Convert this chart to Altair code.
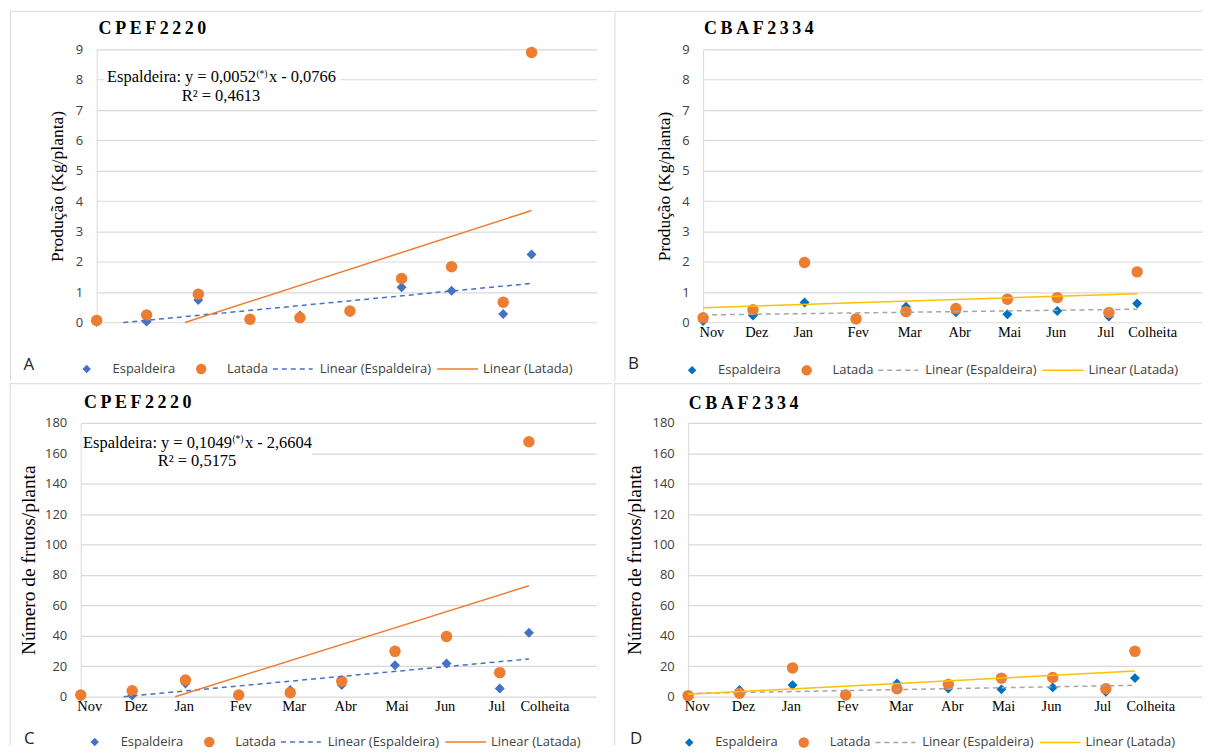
import altair as alt
import pandas as pd

# ---------------- data ----------------
months = ["Nov", "Dez", "Jan", "Fev", "Mar", "Abr", "Mai", "Jun", "Jul", "Colheita"]
days = [0, 30, 61, 92, 122, 152, 183, 213, 244, 261]
tick_days = [5, 32, 60, 93, 124, 154, 184, 212, 242, 270]

# Produção (Kg/planta)
prod_cpef_esp = [0.02, 0.03, 0.74, 0.08, 0.23, 0.35, 1.16, 1.05, 0.28, 2.24]
prod_cpef_lat = [0.07, 0.25, 0.93, 0.11, 0.16, 0.38, 1.45, 1.84, 0.67, 8.90]
prod_cbaf_esp = [0.05, 0.23, 0.66, 0.10, 0.52, 0.34, 0.27, 0.38, 0.20, 0.63]
prod_cbaf_lat = [0.16, 0.42, 1.98, 0.12, 0.36, 0.46, 0.77, 0.82, 0.33, 1.67]
# Número de frutos/planta
frut_cpef_esp = [0.5, 0.7, 8.7, 1.0, 4.4, 7.6, 20.7, 21.8, 5.4, 42.0]
frut_cpef_lat = [1.1, 3.9, 10.9, 1.1, 2.6, 10.2, 29.8, 39.6, 15.8, 167.6]
frut_cbaf_esp = [0.6, 4.4, 7.6, 1.0, 8.7, 5.4, 4.8, 6.1, 3.3, 12.2]
frut_cbaf_lat = [0.7, 2.2, 18.9, 1.1, 5.2, 8.1, 12.2, 12.6, 5.2, 29.8]

# trend lines (end points)
tr_prod_cpef_esp_x = [16, 261]
tr_prod_cpef_esp_y = [0.0, 1.29]
tr_prod_cpef_lat_x = [53, 261]
tr_prod_cpef_lat_y = [0.0, 3.69]
tr_prod_cbaf_esp_x = [0, 261]
tr_prod_cbaf_esp_y = [0.25, 0.44]
tr_prod_cbaf_lat_x = [0, 261]
tr_prod_cbaf_lat_y = [0.49, 0.95]
tr_frut_cpef_esp_x = [25, 261]
tr_frut_cpef_esp_y = [0.0, 24.8]
tr_frut_cpef_lat_x = [55, 261]
tr_frut_cpef_lat_y = [0.0, 72.9]
tr_frut_cbaf_esp_x = [0, 261]
tr_frut_cbaf_esp_y = [2.1, 7.5]
tr_frut_cbaf_lat_x = [0, 261]
tr_frut_cbaf_lat_y = [1.6, 16.8]

prod_ticks = [0, 1, 2, 3, 4, 5, 6, 7, 8, 9]
frut_ticks = [0, 20, 40, 60, 80, 100, 120, 140, 160, 180]

legend_labels = ["Espaldeira", "Latada", "Linear (Espaldeira)", "Linear (Latada)"]
eq_prod = ["Espaldeira: y = 0,0052", "(*)", "x - 0,0766", "R\u00b2 = 0,4613"]
eq_frut = ["Espaldeira: y = 0,1049", "(*)", "x - 2,6604", "R\u00b2 = 0,5175"]

# ---------------- style ----------------
SERIF = "Liberation Serif"
SANS = "Open Sans"
GRID = "#d9d9d9"
TXT = "#404040"
ORANGE = "#ED7D31"

one = pd.DataFrame({"k": [0]})


def spaced(t):
    return "\u2009".join(list(t))


def txt(text, x, y, **kw):
    return alt.Chart(one).mark_text(text=text, **kw).encode(x=alt.value(x), y=alt.value(y))


def panel(c):
    W, H = c["w"], c["h"]
    df = pd.DataFrame({"dia": days, "mes": months, "Espaldeira": c["esp"], "Latada": c["lat"]})
    xs = alt.Scale(domain=[0, 300], nice=False, zero=False)
    ys = alt.Scale(domain=[0, c["ymax"]], nice=False)
    if c["xlabels"]:
        expr = "[" + ",".join("'%s'" % m for m in months) + "][indexof([" + ",".join(str(d) for d in tick_days) + "], datum.value)]"
        xaxis = alt.Axis(values=tick_days, labelExpr=expr, title=None, grid=False, domain=False,
                         ticks=False, labelFont=SERIF, labelFontSize=14.5, labelColor="#000000",
                         labelPadding=3, labelFlush=False, labelOverlap=False, labelAngle=0)
    else:
        xaxis = alt.Axis(labels=False, title=None, grid=False, domain=False, ticks=False)
    yaxis = alt.Axis(values=c["yticks"], title=c["ytitle"], titleFont=SERIF, titleFontSize=c["yts"],
                     titleFontWeight="normal", titleColor="#000000", titleAngle=270, titleAlign="center",
                     titleBaseline="middle", titleX=c["ytx"], titleY=H / 2,
                     labelFont=SANS, labelFontSize=13, labelColor=TXT, labelPadding=14,
                     ticks=False, domain=True, domainColor=GRID, domainWidth=1,
                     grid=True, gridColor=GRID, gridWidth=1.2)
    X = lambda f: alt.X(f, scale=xs, axis=xaxis, title=None)
    Y = lambda f: alt.Y(f, scale=ys, axis=yaxis, title=c["ytitle"])

    x1, x2, y1, y2 = c["rect"]
    layers = []
    # panel area (defines the panel bounds)
    layers.append(alt.Chart(one).mark_rect(fill="white", opacity=0).encode(
        x=alt.value(x1), x2=alt.value(x2), y=alt.value(y1), y2=alt.value(y2)))
    if c.get("eq"):
        bx1, bx2, by1, by2 = c["box"]
        layers.append(alt.Chart(one).mark_rect(fill="white").encode(
            x=alt.value(bx1), x2=alt.value(bx2), y=alt.value(by1), y2=alt.value(by2)))

    layers.append(alt.Chart(df).mark_point(shape="diamond", filled=True, size=100, opacity=1,
                                           color=c["esp_color"]).encode(x=X("dia:Q"), y=Y("Espaldeira:Q")))
    layers.append(alt.Chart(df).mark_point(shape="circle", filled=True, size=132, opacity=1,
                                           color=ORANGE).encode(x=X("dia:Q"), y=Y("Latada:Q")))

    te = pd.DataFrame({"dia": c["tr_esp"][0], "valor": c["tr_esp"][1]})
    tl = pd.DataFrame({"dia": c["tr_lat"][0], "valor": c["tr_lat"][1]})
    layers.append(alt.Chart(te).mark_line(strokeDash=[5, 4], strokeWidth=1.5, color=c["tr_esp_color"]).encode(
        x=X("dia:Q"), y=Y("valor:Q")))
    layers.append(alt.Chart(tl).mark_line(strokeWidth=1.5, color=c["tr_lat_color"]).encode(
        x=X("dia:Q"), y=Y("valor:Q")))

    # title
    tx, ty = c["title_xy"]
    layers.append(txt(spaced(c["title"]), tx, ty, align="left", baseline="middle", font=SERIF,
                      fontSize=18, fontWeight="bold", color="#000000"))
    # equation
    if c.get("eq"):
        e = c["eq"]
        ex, ey = c["eq_xy"]
        layers.append(txt(e[0], ex, ey, align="left", baseline="alphabetic", font=SERIF, fontSize=16.5, color="#000000"))
        layers.append(txt(e[1], ex + 150, ey - 5.5, align="left", baseline="alphabetic", font=SERIF, fontSize=9.5, color="#000000"))
        layers.append(txt(e[2], ex + 162.5, ey, align="left", baseline="alphabetic", font=SERIF, fontSize=16.5, color="#000000"))
        layers.append(txt(e[3], ex + 75, ey + 18.6, align="left", baseline="alphabetic", font=SERIF, fontSize=16.5, color="#000000"))
    # panel letter
    lx, ly = c["letter_xy"]
    layers.append(txt(c["letter"], lx, ly, align="center", baseline="middle", font=SANS, fontSize=17, color="#262626"))
    # legend
    gx, gy = c["legend_xy"]
    layers.append(alt.Chart(one).mark_point(shape="diamond", filled=True, size=72, opacity=1,
                                            color=c["esp_color"]).encode(x=alt.value(gx), y=alt.value(gy)))
    layers.append(txt(legend_labels[0], gx + 26, gy, align="left", baseline="middle", font=SANS, fontSize=13, color=TXT))
    layers.append(alt.Chart(one).mark_point(shape="circle", filled=True, size=110, opacity=1,
                                            color=ORANGE).encode(x=alt.value(gx + 115), y=alt.value(gy)))
    layers.append(txt(legend_labels[1], gx + 141, gy, align="left", baseline="middle", font=SANS, fontSize=13, color=TXT))
    layers.append(alt.Chart(one).mark_rule(strokeDash=[5, 4], strokeWidth=1.5, color=c["tr_esp_color"]).encode(
        x=alt.value(gx + 187), x2=alt.value(gx + 227), y=alt.value(gy)))
    layers.append(txt(legend_labels[2], gx + 234, gy, align="left", baseline="middle", font=SANS, fontSize=13, color=TXT))
    layers.append(alt.Chart(one).mark_rule(strokeWidth=1.5, color=c["tr_lat_color"]).encode(
        x=alt.value(gx + 352), x2=alt.value(gx + 393), y=alt.value(gy)))
    layers.append(txt(legend_labels[3], gx + 398, gy, align="left", baseline="middle", font=SANS, fontSize=13, color=TXT))
    # panel borders (left and top)
    layers.append(alt.Chart(one).mark_rule(strokeWidth=1, color=GRID).encode(
        x=alt.value(x1 + 0.5), y=alt.value(y1), y2=alt.value(y2)))
    layers.append(alt.Chart(one).mark_rule(strokeWidth=1, color=GRID).encode(
        x=alt.value(x1), x2=alt.value(x2), y=alt.value(y1 + 0.5)))

    return alt.layer(*layers).properties(width=W, height=H)


def spacer():
    return alt.Chart(one).mark_rect(opacity=0).encode(
        x=alt.value(0), x2=alt.value(0), y=alt.value(0), y2=alt.value(0)
    ).properties(width=1, height=1)


cfgA = dict(w=502, h=274.3, esp=prod_cpef_esp, lat=prod_cpef_lat, ymax=9, yticks=prod_ticks,
            ytitle="Produção (Kg/planta)", yts=17.6, ytx=-39.5, xlabels=False,
            rect=(-87, 518, -38.7, 332.8), title="CPEF2220", title_xy=(2, -20.7),
            letter="A", letter_xy=(-68, 317.3), legend_xy=(-10, 321),
            esp_color="#4472C4", tr_esp_color="#4472C4", tr_lat_color=ORANGE,
            tr_esp=(tr_prod_cpef_esp_x, tr_prod_cpef_esp_y), tr_lat=(tr_prod_cpef_lat_x, tr_prod_cpef_lat_y),
            eq=eq_prod, eq_xy=(10.5, 32.8), box=(8, 245, 17, 54))
cfgB = dict(w=501, h=274.3, esp=prod_cbaf_esp, lat=prod_cbaf_lat, ymax=9, yticks=prod_ticks,
            ytitle="Produção (Kg/planta)", yts=17.4, ytx=-38.4, xlabels=True,
            rect=(-89, 501, -38.7, 332.8), title="CBAF2334", title_xy=(1, -20),
            letter="B", letter_xy=(-70, 316.3), legend_xy=(-11, 322.3),
            esp_color="#0070C0", tr_esp_color="#A5A5A5", tr_lat_color="#FFC000",
            tr_esp=(tr_prod_cbaf_esp_x, tr_prod_cbaf_esp_y), tr_lat=(tr_prod_cbaf_lat_x, tr_prod_cbaf_lat_y))
cfgC = dict(w=517.4, h=275, esp=frut_cpef_esp, lat=frut_cpef_lat, ymax=180, yticks=frut_ticks,
            ytitle="Número de frutos/planta", yts=19.5, ytx=-52.1, xlabels=True,
            rect=(-71.3, 533.7, -39.8, 323.7), title="CPEF2220", title_xy=(3.2, -20.3),
            letter="C", letter_xy=(-51.6, 318), legend_xy=(14.1, 320.5),
            esp_color="#4472C4", tr_esp_color="#4472C4", tr_lat_color=ORANGE,
            tr_esp=(tr_frut_cpef_esp_x, tr_frut_cpef_esp_y), tr_lat=(tr_frut_cpef_lat_x, tr_frut_cpef_lat_y),
            eq=eq_frut, eq_xy=(2.4, 25.2), box=(1, 232, 6, 50))
cfgD = dict(w=515.7, h=275, esp=frut_cbaf_esp, lat=frut_cbaf_lat, ymax=180, yticks=frut_ticks,
            ytitle="Número de frutos/planta", yts=19.5, ytx=-53.6, xlabels=True,
            rect=(-74.3, 515.7, -39.8, 323.7), title="CBAF2334", title_xy=(0.7, -19.3),
            letter="D", letter_xy=(-52.3, 318), legend_xy=(1.1, 321),
            esp_color="#0070C0", tr_esp_color="#A5A5A5", tr_lat_color="#FFC000",
            tr_esp=(tr_frut_cbaf_esp_x, tr_frut_cbaf_esp_y), tr_lat=(tr_frut_cbaf_lat_x, tr_frut_cbaf_lat_y))

top = alt.hconcat(spacer(), panel(cfgA), panel(cfgB), spacing=0)
bottom = alt.hconcat(spacer(), panel(cfgC), panel(cfgD), spacing=0)
chart = alt.vconcat(top, bottom, spacing=0).properties(
    padding=0, background="white"
).configure_view(stroke=None)

chart.save("out.html", embed_options={"renderer": "svg", "actions": False})
